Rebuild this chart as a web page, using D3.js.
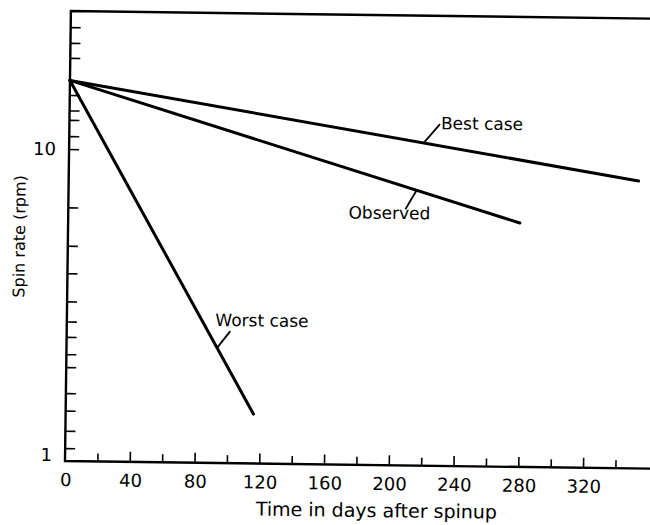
<!DOCTYPE html>
<html>
<head>
<meta charset="utf-8">
<script src="https://cdn.jsdelivr.net/npm/d3@7"></script>
<style>
  html, body { margin: 0; padding: 0; background: #fff; }
  svg { display: block; font-family: "DejaVu Sans", sans-serif; }
</style>
</head>
<body>
<div id="chart"></div>
<script>
// spin rate decay, three straight lines on a log axis
const bestCase = [{ day: 0, rpm: 16.6 }, { day: 352, rpm: 8.35 }];
const observed = [{ day: 0, rpm: 16.6 }, { day: 279, rpm: 6.05 }];
const worstCase = [{ day: 0, rpm: 16.6 }, { day: 116, rpm: 1.44 }];
const seriesNames = ['Best case', 'Observed', 'Worst case'];

const xMajorTicks = [0, 40, 80, 120, 160, 200, 240, 280, 320];
const xMinorTicks = [20, 60, 100, 140, 180, 220, 260, 300, 340];
const yLabelTicks = [1, 10];
const yMinorTicks = [1.1, 1.25, 1.45, 1.65, 2, 2.2, 2.5, 2.8, 3.25, 4, 4.9, 6.5,
  11, 12.4, 13.3, 14.9, 19.6, 21.9, 24.6];

const xTitle = 'Time in days after spinup';
const yTitle = 'Spin rate (rpm)';

const svgWidth = 650, svgHeight = 525;
const margin = { top: 11, left: 65, bottom: 64 };
const plotBottom = svgHeight - margin.bottom;

const svg = d3.select('#chart').append('svg')
  .attr('width', svgWidth)
  .attr('height', svgHeight);

// the scanned figure sits slightly tilted
const g = svg.append('g')
  .attr('transform', `rotate(0.75, ${margin.left}, ${plotBottom})`);

const x = d3.scaleLinear()
  .domain([0, 400])
  .range([margin.left, margin.left + 400 * 1.619]);

const y = d3.scaleLog()
  .domain([1, 27.7])
  .range([plotBottom, margin.top]);

// frame: left axis, bottom axis, top border
g.append('path')
  .attr('d', `M${x(430)},${margin.top}H${margin.left}V${plotBottom}H${x(430)}`)
  .attr('fill', 'none')
  .attr('stroke', '#000')
  .attr('stroke-width', 2.4);

// bottom ticks point up into the plot
const xAxis = d3.axisTop(x).tickValues(xMajorTicks.slice(1)).tickSize(10).tickFormat('');
g.append('g')
  .attr('transform', `translate(0,${plotBottom})`)
  .call(xAxis)
  .call(a => a.select('.domain').remove())
  .call(a => a.selectAll('line').attr('stroke-width', 1.6));

g.append('g')
  .attr('transform', `translate(0,${plotBottom})`)
  .call(d3.axisTop(x).tickValues(xMinorTicks).tickSize(8).tickFormat(''))
  .call(a => a.select('.domain').remove())
  .call(a => a.selectAll('line').attr('stroke-width', 1.6));

g.append('g')
  .selectAll('text')
  .data(xMajorTicks)
  .enter().append('text')
  .attr('x', d => x(d) + 1)
  .attr('y', plotBottom + 25)
  .attr('text-anchor', 'middle')
  .attr('font-size', 18)
  .text(d => d);

// left ticks point right into the plot
g.append('g')
  .attr('transform', `translate(${margin.left},0)`)
  .call(d3.axisRight(y).tickValues(yMinorTicks.concat([10])).tickSize(10).tickFormat(''))
  .call(a => a.select('.domain').remove())
  .call(a => a.selectAll('line').attr('stroke-width', 1.6));

g.append('g')
  .selectAll('text')
  .data(yLabelTicks)
  .enter().append('text')
  .attr('x', margin.left - 13)
  .attr('y', d => y(d) - (d === 1 ? 6 : 0))
  .attr('dy', '0.35em')
  .attr('text-anchor', 'end')
  .attr('font-size', 18)
  .text(d => d);

// axis titles
g.append('text')
  .attr('x', 377)
  .attr('y', 513)
  .attr('text-anchor', 'middle')
  .attr('font-size', 19)
  .text(xTitle);

g.append('text')
  .attr('transform', 'translate(22,237) rotate(-90)')
  .attr('text-anchor', 'middle')
  .attr('font-size', 16)
  .text(yTitle);

// the three lines
const line = d3.line()
  .x(d => x(d.day))
  .y(d => y(d.rpm));

const series = [bestCase, observed, worstCase];

g.append('g')
  .selectAll('path')
  .data(series)
  .enter().append('path')
  .attr('d', line)
  .attr('fill', 'none')
  .attr('stroke', '#000')
  .attr('stroke-width', 3)
  .attr('stroke-linecap', 'round');

// labels with little leader strokes, anchored on the line at a given day
function pointAt(s, day) {
  const t = (day - s[0].day) / (s[1].day - s[0].day);
  const lv = Math.log10(s[0].rpm) + t * (Math.log10(s[1].rpm) - Math.log10(s[0].rpm));
  return [x(day), y(Math.pow(10, lv))];
}

const labels = [
  { day: 219, lead: [16, -19], tx: 17, ty: -14, anchor: 'start' },
  { day: 215, lead: [-11, 19], tx: 14, ty: 29, anchor: 'end' },
  { day: 93, lead: [13, -17], tx: -2, ty: -22, anchor: 'start' }
];

labels.forEach((l, i) => {
  const [px, py] = pointAt(series[i], l.day);
  g.append('line')
    .attr('x1', px)
    .attr('y1', py)
    .attr('x2', px + l.lead[0])
    .attr('y2', py + l.lead[1])
    .attr('stroke', '#000')
    .attr('stroke-width', 1.8);
  g.append('text')
    .attr('x', px + l.tx)
    .attr('y', py + l.ty)
    .attr('text-anchor', l.anchor)
    .attr('font-size', 17)
    .text(seriesNames[i]);
});
</script>
</body>
</html>
